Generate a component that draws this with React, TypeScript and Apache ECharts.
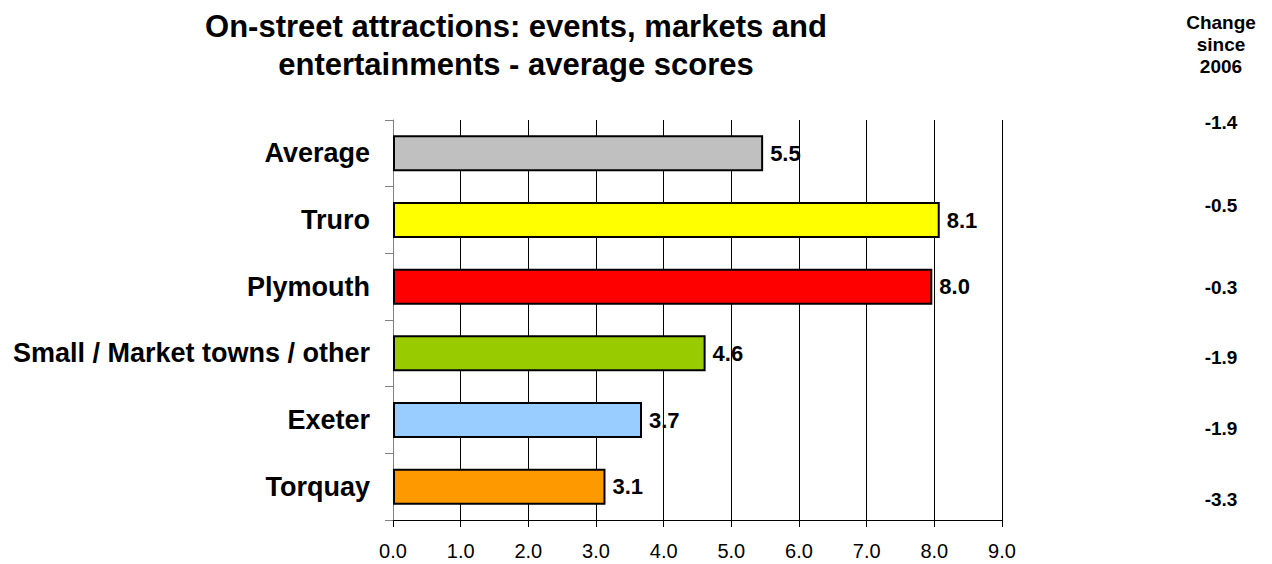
import React, { useEffect, useRef } from "react";
import * as echarts from "echarts";

const categories = [
  "Average",
  "Truro",
  "Plymouth",
  "Small / Market towns / other",
  "Exeter",
  "Torquay",
];
const scores = [5.47, 8.08, 7.97, 4.62, 3.68, 3.14];
const barColors = ["#C0C0C0", "#FFFF00", "#FF0000", "#99CC00", "#99CCFF", "#FF9900"];
const changeSince2006 = ["-1.4", "-0.5", "-0.3", "-1.9", "-1.9", "-3.3"];
const titleLines = ["On-street attractions: events, markets and", "entertainments - average scores"];
const changeHeader = ["Change", "since", "2006"];

// layout (pixel positions, not data)
const changeY = [122, 205, 287, 357, 428, 499];
const changeX = 1221;
const headerY = [22, 44, 66];
const titleY = [26, 64];
const FONT = "'Liberation Sans', Arial, sans-serif";

export default function App() {
  const ref = useRef<HTMLDivElement>(null);
  useEffect(() => {
    document.body.style.margin = "0";
    const chart = echarts.init(ref.current!, null, { renderer: "svg" });
    const graphics: any[] = [];
    titleLines.forEach((t, i) =>
      graphics.push({
        type: "text",
        x: 516,
        y: titleY[i],
        style: {
          text: t,
          align: "center",
          verticalAlign: "middle",
          font: `bold 31px ${FONT}`,
          fill: "#000",
        },
      })
    );
    changeHeader.forEach((t, i) =>
      graphics.push({
        type: "text",
        x: changeX,
        y: headerY[i],
        style: {
          text: t,
          align: "center",
          verticalAlign: "middle",
          font: `bold 19px ${FONT}`,
          fill: "#000",
        },
      })
    );
    changeSince2006.forEach((t, i) =>
      graphics.push({
        type: "text",
        x: changeX,
        y: changeY[i],
        style: {
          text: t,
          align: "center",
          verticalAlign: "middle",
          font: `bold 19px ${FONT}`,
          fill: "#000",
        },
      })
    );
    chart.setOption({
      animation: false,
      textStyle: { fontFamily: FONT },
      grid: { left: 393, right: 270, top: 120, bottom: 44, containLabel: false },
      xAxis: {
        type: "value",
        min: 0,
        max: 9,
        interval: 1,
        axisLine: { show: true, lineStyle: { color: "#000", width: 1 } },
        axisTick: { show: true, length: 7, lineStyle: { color: "#000" } },
        splitLine: { show: true, lineStyle: { color: "#000", width: 1 } },
        axisLabel: {
          formatter: (v: number) => v.toFixed(1),
          fontSize: 20,
          color: "#000",
          fontFamily: FONT,
          margin: 21,
        },
      },
      yAxis: {
        type: "category",
        data: categories,
        inverse: true,
        axisLine: { show: true, lineStyle: { color: "#808080", width: 1 } },
        axisTick: { show: true, length: 8, lineStyle: { color: "#808080" } },
        axisLabel: {
          fontSize: 27,
          fontWeight: "bold",
          color: "#000",
          fontFamily: FONT,
          margin: 23,
        },
      },
      series: [
        {
          type: "bar",
          data: scores.map((v, i) => ({ value: v, itemStyle: { color: barColors[i] } })),
          barWidth: 36,
          itemStyle: { borderColor: "#000", borderWidth: 2 },
          label: {
            show: true,
            position: "right",
            distance: 7,
            formatter: (p: any) => Number(p.value).toFixed(1),
            fontSize: 22,
            fontWeight: "bold",
            color: "#000",
            fontFamily: FONT,
          },
        },
      ],
      graphic: graphics,
    });
    return () => chart.dispose();
  }, []);
  return <div ref={ref} style={{ width: 1272, height: 564 }} />;
}
